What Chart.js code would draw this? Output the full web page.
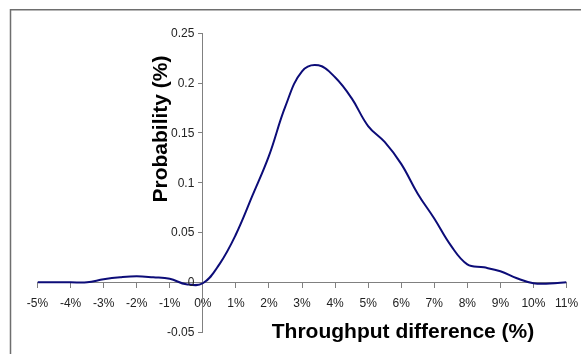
<!DOCTYPE html>
<html>
<head>
<meta charset="utf-8">
<script src="https://cdn.jsdelivr.net/npm/chart.js@4/dist/chart.umd.min.js"></script>
<style>
  html, body { margin: 0; padding: 0; background: #ffffff; }
  #wrap { position: relative; width: 581px; height: 354px; }
</style>
</head>
<body>
<div id="wrap"><canvas id="chart" width="581" height="354"></canvas></div>
<script>
// Throughput difference (%) sampled every half percent
const throughputDiff = [-5, -4.5, -4, -3.5, -3, -2.5, -2, -1.5, -1, -0.5, 0, 0.5, 1, 1.5, 2, 2.5, 3, 3.5, 4, 4.5, 5, 5.5, 6, 6.5, 7, 7.5, 8, 8.5, 9, 9.5, 10, 10.5, 11];
// Probability at each throughput difference
const probability = [0, 0, 0, 0, 0.003, 0.005, 0.006, 0.005, 0.0035, -0.002, -0.001, 0.018, 0.048, 0.087, 0.127, 0.177, 0.212, 0.218, 0.206, 0.185, 0.157, 0.141, 0.119, 0.089, 0.064, 0.037, 0.018, 0.015, 0.011, 0.004, -0.001, -0.0013, 0];

const xTickValues = [-5, -4, -3, -2, -1, 0, 1, 2, 3, 4, 5, 6, 7, 8, 9, 10, 11];
const xTickLabels = ['-5%', '-4%', '-3%', '-2%', '-1%', '0%', '1%', '2%', '3%', '4%', '5%', '6%', '7%', '8%', '9%', '10%', '11%'];
const yTickValues = [-0.05, 0, 0.05, 0.1, 0.15, 0.2, 0.25];
const yTickLabels = ['-0.05', '0', '0.05', '0.1', '0.15', '0.2', '0.25'];

const xTitle = 'Throughput difference (%)';
const yTitle = 'Probability (%)';

const AXIS_GRAY = '#808080';
const LABEL_COLOR = '#222222';
const FONT = 'Arial, "Liberation Sans", sans-serif';

// Outer frame, value labels beside the crossing y axis, and the two axis titles
const decorations = {
  id: 'decorations',
  beforeDraw(chart) {
    const ctx = chart.ctx;
    ctx.save();
    ctx.strokeStyle = '#6e6e6e';
    ctx.lineWidth = 1.5;
    ctx.beginPath();
    ctx.moveTo(10.5, 360);
    ctx.lineTo(10.5, 9.75);
    ctx.lineTo(600, 9.75);
    ctx.stroke();
    ctx.restore();
  },
  afterDraw(chart) {
    const ctx = chart.ctx;
    const xs = chart.scales.x;
    const ys = chart.scales.y;
    const axisX = xs.getPixelForValue(0);
    ctx.save();
    ctx.fillStyle = LABEL_COLOR;
    ctx.font = '12px ' + FONT;
    ctx.textAlign = 'right';
    ctx.textBaseline = 'middle';
    yTickValues.forEach((v, i) => {
      ctx.fillText(yTickLabels[i], axisX - 8.5, ys.getPixelForValue(v) + 0.5);
    });

    ctx.fillStyle = '#000000';
    ctx.font = 'bold 21px ' + FONT;
    ctx.textAlign = 'center';
    ctx.textBaseline = 'alphabetic';
    ctx.fillText(xTitle, 403, 337.5);
    ctx.translate(166.5, 129);
    ctx.rotate(-Math.PI / 2);
    ctx.fillText(yTitle, 0, 0);
    ctx.restore();
  }
};

new Chart(document.getElementById('chart'), {
  type: 'line',
  data: {
    datasets: [{
      data: throughputDiff.map((x, i) => ({ x: x, y: probability[i] })),
      borderColor: '#0c0c78',
      borderWidth: 2,
      pointRadius: 0,
      pointHoverRadius: 0,
      fill: false,
      tension: 0.4
    }]
  },
  options: {
    responsive: false,
    animation: false,
    events: [],
    layout: { padding: { left: 37.5, right: 14.5, top: 33.5, bottom: 22 } },
    plugins: { legend: { display: false }, tooltip: { enabled: false }, title: { display: false } },
    scales: {
      x: {
        type: 'linear',
        position: { y: 0 },
        min: -5,
        max: 11,
        afterBuildTicks: (scale) => { scale.ticks = xTickValues.map(v => ({ value: v })); },
        afterFit: (scale) => { scale.paddingLeft = 0; scale.paddingRight = 0; },
        ticks: {
          autoSkip: false,
          maxRotation: 0,
          padding: 9,
          color: LABEL_COLOR,
          font: { family: FONT, size: 12 },
          callback: (value, index) => xTickLabels[index]
        },
        grid: { drawOnChartArea: false, drawTicks: true, tickLength: 5, color: AXIS_GRAY, tickColor: AXIS_GRAY },
        border: { display: true, color: AXIS_GRAY, width: 1 }
      },
      y: {
        type: 'linear',
        position: { x: 0 },
        min: -0.05,
        max: 0.25,
        afterBuildTicks: (scale) => { scale.ticks = yTickValues.map(v => ({ value: v })); },
        afterFit: (scale) => { scale.paddingTop = 0; scale.paddingBottom = 0; },
        ticks: { display: false },
        grid: { drawOnChartArea: false, drawTicks: true, tickLength: 4, color: AXIS_GRAY, tickColor: AXIS_GRAY },
        border: { display: true, color: AXIS_GRAY, width: 1 }
      }
    }
  },
  plugins: [decorations]
});
</script>
</body>
</html>
